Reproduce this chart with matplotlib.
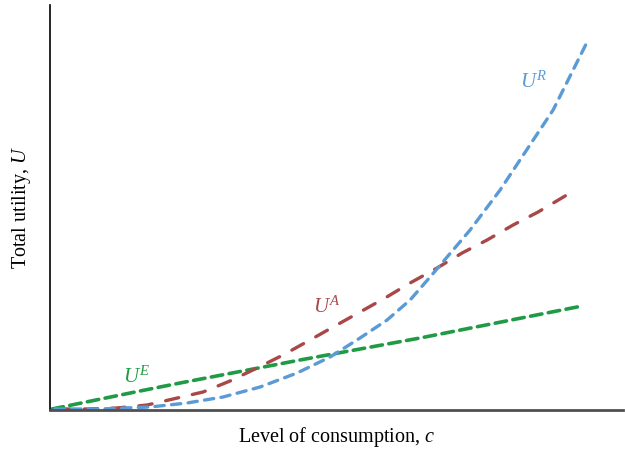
"""Total utility curves against level of consumption."""

import matplotlib

matplotlib.use("Agg")
import matplotlib.pyplot as plt

# Curve readings (consumption, utility) in arbitrary units
green_x = [2, 90, 130, 250, 370, 532]
green_y = [1, 19, 27, 50, 72, 104]

red_x = [7, 37, 67, 97, 123, 153, 180, 207, 233, 260, 283, 310, 335, 360, 387, 412, 437, 463, 488, 520]
red_y = [1, 1, 2, 5, 11, 18, 29, 42, 55, 70, 83, 98, 112, 127, 142, 157, 170, 185, 198, 217]

blue_x = [5, 50, 100, 137, 173, 210, 247, 280, 310, 337, 360, 380, 420, 450, 503, 537]
blue_y = [1, 1, 3, 7, 13, 23, 37, 53, 72, 90, 110, 133, 180, 220, 300, 368]

labels = ["$U^E$", "$U^A$", "$U^R$"]

plt.rcParams["font.family"] = ["Liberation Serif", "DejaVu Serif"]
plt.rcParams["mathtext.fontset"] = "custom"
plt.rcParams["mathtext.rm"] = "Liberation Serif"
plt.rcParams["mathtext.it"] = "Liberation Serif:italic"

GREEN = "#1f9a45"
RED = "#a84848"
BLUE = "#5b9bd5"

fig = plt.figure(figsize=(6.25, 4.51), dpi=100)
ax = fig.add_axes([0.08, 0.0909, 0.917, 0.898])

ax.plot(green_x, green_y, color=GREEN, lw=2.6, dashes=(3.2, 1.8), dash_capstyle="round")
ax.plot(red_x, red_y, color=RED, lw=2.4, dashes=(4.0, 4.2), dash_capstyle="round")
ax.plot(blue_x, blue_y, color=BLUE, lw=2.4, dashes=(2.8, 2.2), dash_capstyle="round")

ax.text(87, 33, labels[0], color=GREEN, fontsize=15, ha="center", va="center")
ax.text(277, 103, labels[1], color=RED, fontsize=15, ha="center", va="center")
ax.text(483, 328, labels[2], color=BLUE, fontsize=15, ha="center", va="center")

ax.set_xlim(0, 573)
ax.set_ylim(0, 405)
ax.set_xticks([])
ax.set_yticks([])
for side in ("top", "right"):
    ax.spines[side].set_visible(False)
ax.spines["left"].set_color("black")
ax.spines["left"].set_linewidth(1.2)
ax.spines["bottom"].set_color("#505050")
ax.spines["bottom"].set_linewidth(2.0)

ax.set_xlabel("Level of consumption, $c$", fontsize=14.5, labelpad=11)
ax.set_ylabel("Total utility, $U$", fontsize=14.5, labelpad=12)

fig.savefig("out.png", dpi=100)
